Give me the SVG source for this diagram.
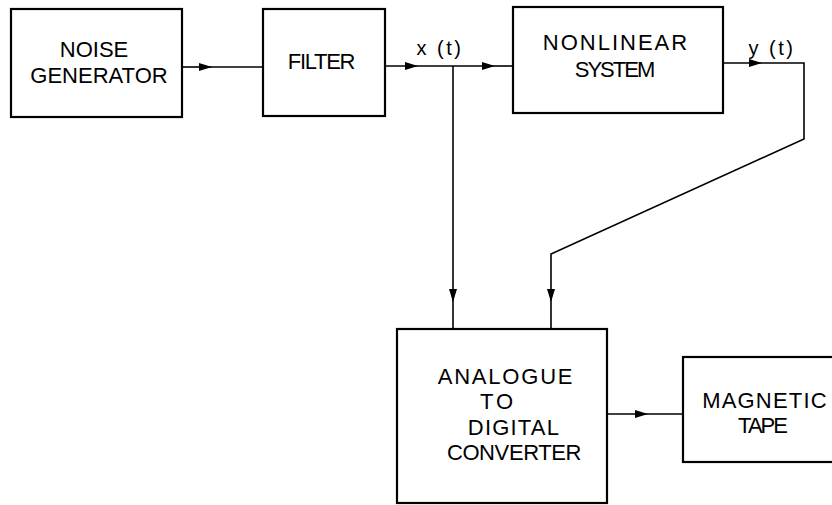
<svg xmlns="http://www.w3.org/2000/svg" width="832" height="505" viewBox="0 0 832 505">
<style>
.box{fill:#fff;stroke:#000;stroke-width:2.2}
.ln{fill:none;stroke:#000;stroke-width:1.6}
.t{font-family:"Liberation Sans",Arial,sans-serif;font-size:22px;fill:#000;text-anchor:middle}
.s{font-family:"Liberation Sans",Arial,sans-serif;font-size:20px;fill:#000;text-anchor:middle;letter-spacing:2.5px}
</style>
<defs>
<marker id="ah" markerUnits="userSpaceOnUse" markerWidth="13" markerHeight="9" refX="13" refY="4.5" orient="auto">
<path d="M0,0.5 L13,4.5 L0,8.5 z" fill="#000"/>
</marker>
</defs>
<g id="connectors">
<path class="ln" d="M182,67 L212,67" marker-end="url(#ah)"/>
<path class="ln" d="M212,67 L263,67"/>
<path class="ln" d="M385,66 L418,66" marker-end="url(#ah)"/>
<path class="ln" d="M418,66 L495,66" marker-end="url(#ah)"/>
<path class="ln" d="M495,66 L513,66"/>
<path class="ln" d="M453,66 L453,302" marker-end="url(#ah)"/>
<path class="ln" d="M453,302 L453,329"/>
<path class="ln" d="M723,63 L762,63" marker-end="url(#ah)"/>
<path class="ln" d="M762,63 L804,63 L804,139 L551,254 L551,302" marker-end="url(#ah)"/>
<path class="ln" d="M551,302 L551,329"/>
<path class="ln" d="M608,414 L648,414" marker-end="url(#ah)"/>
<path class="ln" d="M648,414 L683,414"/>
</g>
<g id="noise-generator">
<rect class="box" x="11" y="9" width="171" height="108"/>
<text class="t" x="94" y="57">NOISE</text>
<text class="t" x="99" y="83">GENERATOR</text>
</g>
<g id="filter">
<rect class="box" x="263" y="9" width="122" height="107"/>
<text class="t" x="321" y="69" letter-spacing="-1.3">FILTER</text>
</g>
<g id="x-label">
<text class="s" x="440" y="55">x (t)</text>
</g>
<g id="nonlinear-system">
<rect class="box" x="513" y="7" width="210" height="106"/>
<text class="t" x="616" y="50" letter-spacing="2">NONLINEAR</text>
<text class="t" x="614" y="77" letter-spacing="-2">SYSTEM</text>
</g>
<g id="y-label">
<text class="s" x="772" y="55">y (t)</text>
</g>
<g id="adc">
<rect class="box" x="397" y="329" width="210" height="174"/>
<text class="t" x="506" y="384" letter-spacing="1.8">ANALOGUE</text>
<text class="t" x="498" y="409" letter-spacing="3">TO</text>
<text class="t" x="514" y="435" letter-spacing="1.2">DIGITAL</text>
<text class="t" x="514" y="460" letter-spacing="-0.4">CONVERTER</text>
</g>
<g id="magnetic-tape">
<rect class="box" x="683" y="357" width="160" height="105"/>
<text class="t" x="765" y="408" letter-spacing="1.2">MAGNETIC</text>
<text class="t" x="762" y="433" letter-spacing="-2">TAPE</text>
</g>
</svg>
